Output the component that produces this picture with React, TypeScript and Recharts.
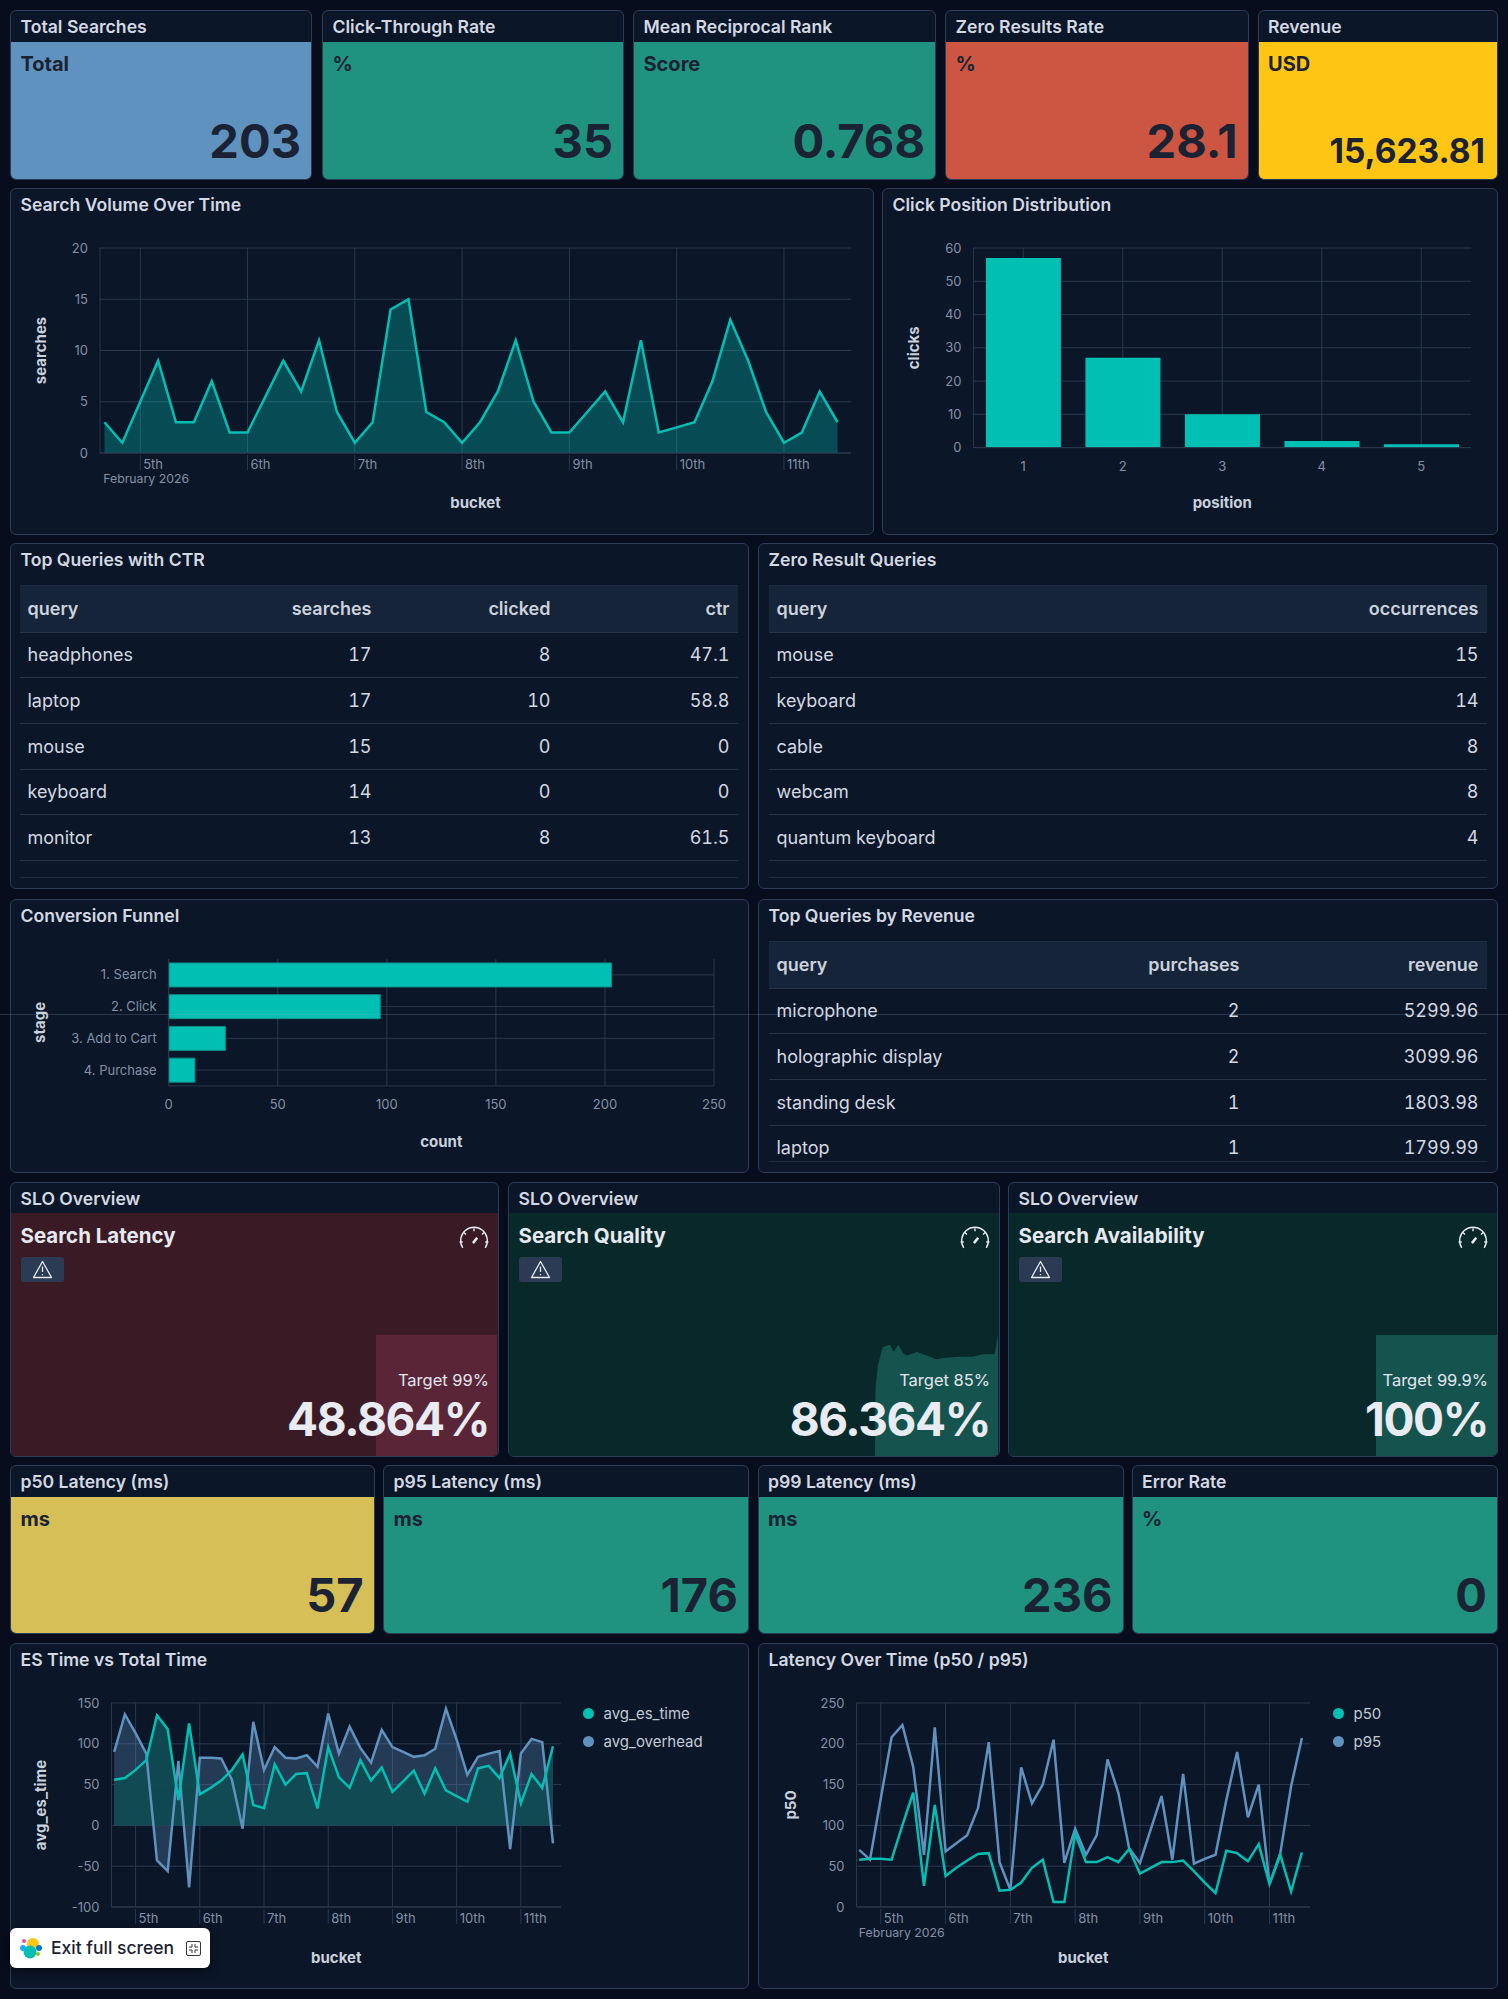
import React from "react";
import {
  AreaChart,
  Area,
  BarChart,
  Bar,
  ComposedChart,
  Line,
  LineChart,
  XAxis,
  YAxis,
  CartesianGrid,
  Legend,
} from "recharts";

const FONT = "Inter, sans-serif";
const TEAL = "#00bfb3";
const BLUE = "#6092c0";
const GRID = "#2a384e";
const TICK = "#8490a5";
const AXIS_TITLE = "#c9d1dd";
const TITLE = "#d3d8e2";
const DARK = "#1a2233";
const BORDER = "#2c3c58";
const PANEL = "#0b1628";

// 4h buckets, hours counted from Feb 4th 00:00
const buckets = [
  16, 20, 24, 28, 32, 36, 40, 44, 48, 52, 56, 60, 64, 68, 72, 76, 80, 84, 88, 92, 96, 100, 104, 108,
  112, 116, 120, 124, 128, 132, 136, 140, 144, 148, 152, 156, 160, 164, 168, 172, 176, 180,
];
const dayTicks = [24, 48, 72, 96, 120, 144, 168];
const dayLabels = ["5th", "6th", "7th", "8th", "9th", "10th", "11th"];
const monthLabel = "February 2026";

const searchVolume = [
  3, 1, 5, 9, 3, 3, 7, 2, 2, 5.5, 9, 6, 11, 4, 1, 3, 14, 15, 4, 3, 1, 3, 6, 11, 5, 2, 2, 4, 6, 3, 11, 2, 2.5, 3, 7, 13, 9,
  4, 1, 2, 6, 3,
];
const searchTicks = [0, 5, 10, 15, 20];

const clickPositions = ["1", "2", "3", "4", "5"];
const clickCounts = [57, 27, 10, 2, 1];
const clickTicks = [0, 10, 20, 30, 40, 50, 60];

const funnelStages = ["1. Search", "2. Click", "3. Add to Cart", "4. Purchase"];
const funnelCounts = [203, 97, 26, 12];
const funnelTicks = [0, 50, 100, 150, 200, 250];

const avgEsTime = [
  56, 58, 68, 80, 135, 118, 31, 125, 38, 46, 55, 68, 87, 25, 21, 75, 50, 63, 64, 21, 96, 59, 46, 80, 55, 71, 41, 54, 67,
  39, 70, 43, 36, 29, 70, 73, 58, 88, 27, 63, 46, 97,
];
const avgOverhead = [
  90, 136, 113, 88, -43, -56, 79, -76, 83, 83, 82, 56, -4, 127, 68, 96, 83, 82, 86, 72, 137, 88, 121, 95, 77, 117, 96, 90,
  84, 86, 94, 143, 105, 62, 84, 88, 91, -29, 88, 106, 102, -22,
];
const esTicks = [-100, -50, 0, 50, 100, 150];

const p50 = [
  58, 59, 59, 58, 100, 140, 26, 125, 38, 48, 57, 65, 66, 20, 21, 30, 48, 58, 6, 6, 90, 55, 55, 61, 55, 71, 41, 48, 55, 55,
  57, 44, 30, 17, 69, 66, 56, 77, 28, 64, 19, 67,
];
const p95 = [
  70, 58, 133, 208, 223, 172, 64, 220, 68, 78, 88, 121, 202, 55, 21, 171, 127, 150, 205, 54, 96, 64, 88, 181, 140, 72, 54,
  95, 136, 58, 163, 53, 59, 64, 131, 190, 110, 150, 28, 66, 148, 207,
];
const latencyTicks = [0, 50, 100, 150, 200, 250];

const topQueryNames = ["headphones", "laptop", "mouse", "keyboard", "monitor"];
const topQuerySearches = [17, 17, 15, 14, 13];
const topQueryClicked = [8, 10, 0, 0, 8];
const topQueryCtr = [47.1, 58.8, 0, 0, 61.5];

const zeroQueryNames = ["mouse", "keyboard", "cable", "webcam", "quantum keyboard"];
const zeroQueryCounts = [15, 14, 8, 8, 4];

const revenueNames = ["microphone", "holographic display", "standing desk", "laptop"];
const revenuePurchases = [2, 2, 1, 1];
const revenueValues = ["5299.96", "3099.96", "1803.98", "1799.99"];

// burn-down sparklines behind the SLO numbers, x is just position across the block
const latencyTrendX = [0, 100];
const latencyTrend = [100, 100];
const qualityTrendX = [0, 1, 6, 16, 31, 38, 48, 58, 66, 86, 106, 126, 141, 171, 201, 221, 246, 253];
const qualityTrend = [0, 56, 75, 90, 92, 86, 92, 85, 83, 86, 83, 80, 81, 82, 82, 84, 84, 100];
const availabilityTrendX = [0, 100];
const availabilityTrend = [100, 100];

const volumeRows = buckets.map((bucket, i) => ({ bucket, searches: searchVolume[i] }));
const clickRows = clickPositions.map((position, i) => ({ position, clicks: clickCounts[i] }));
const funnelRows = funnelStages.map((stage, i) => ({ stage, count: funnelCounts[i] }));
const esRows = buckets.map((bucket, i) => ({ bucket, avg_es_time: avgEsTime[i], avg_overhead: avgOverhead[i] }));
const latencyRows = buckets.map((bucket, i) => ({ bucket, p50: p50[i], p95: p95[i] }));

type Box = { x: number; y: number; w: number; h: number };
type Plot = { l: number; t: number; r: number; b: number };

const AXIS_SIZE = 60;
const EDGE = 1.5;

const abs = (x: number, y: number, w: number, h: number): React.CSSProperties => ({
  position: "absolute",
  left: x,
  top: y,
  width: w,
  height: h,
});

const chartMargin = (box: Box, plot: Plot, legendWidth = 0) => ({
  left: plot.l - box.x - AXIS_SIZE,
  top: plot.t - box.y,
  right: box.x + box.w - plot.r - legendWidth,
  bottom: box.y + box.h - plot.b - AXIS_SIZE,
});

const tickStyle = { fill: TICK, fontSize: 13, fontFamily: FONT };

const axisTitle = (text: string, x: number, y: number, rotate = false) => ({
  content: () => (
    <text
      x={x}
      y={y}
      transform={rotate ? `rotate(-90 ${x} ${y})` : undefined}
      textAnchor="middle"
      dominantBaseline="central"
      fill={AXIS_TITLE}
      fontSize={15}
      fontWeight={700}
      fontFamily={FONT}
    >
      {text}
    </text>
  ),
});

const yTitleFor = (text: string, box: Box, plot: Plot, absX: number) =>
  axisTitle(text, absX - box.x, (plot.t + plot.b) / 2 - box.y, true);
const xTitleFor = (text: string, box: Box, plot: Plot, absY: number) =>
  axisTitle(text, (plot.l + plot.r) / 2 - box.x, absY - box.y);

const DayTick = ({ x, y, payload, monthDx }: any) => {
  const i = dayTicks.indexOf(payload.value);
  return (
    <g>
      <line x1={x} x2={x} y1={y} y2={y + 15} stroke={GRID} />
      <text x={x + 3} y={y + 8.5} dominantBaseline="central" {...tickStyle}>
        {dayLabels[i]}
      </text>
      {i === 0 && (
        <text x={x + monthDx} y={y + 23.5} dominantBaseline="central" {...tickStyle} fontSize={12.3}>
          {monthLabel}
        </text>
      )}
    </g>
  );
};

const legendContent = (items: { name: string; color: string }[]) => () => (
  <div>
    {items.map((item) => (
      <div key={item.name} style={{ display: "flex", alignItems: "center", height: 28, fontFamily: FONT, fontSize: 15, color: "#c3cad6" }}>
        <span style={{ width: 11, height: 11, borderRadius: 6, background: item.color, marginRight: 10 }} />
        {item.name}
      </div>
    ))}
  </div>
);

const PanelFrame = ({ box, title, bg = PANEL, children }: any) => (
  <div
    style={{
      ...abs(box.x, box.y, box.w, box.h),
      boxSizing: "border-box",
      background: bg,
      border: `${EDGE}px solid ${BORDER}`,
      borderRadius: 6,
      overflow: "hidden",
    }}
  >
    <div
      style={{
        position: "absolute",
        left: 9.5,
        top: 6,
        fontFamily: FONT,
        fontSize: 17.6,
        fontWeight: 600,
        color: TITLE,
        lineHeight: "20px",
        whiteSpace: "nowrap",
      }}
    >
      {title}
    </div>
    {children}
  </div>
);

const Metric = ({ box, title, label, value, color, size = 47, bottom = 11, right = 10 }: any) => (
  <div style={abs(box.x, box.y, box.w, box.h)}>
    <PanelFrame box={{ x: 0, y: 0, w: box.w, h: box.h }} title={title}>
      <div style={{ position: "absolute", left: 0, right: 0, top: 30.5, bottom: 0, background: color }}>
        <div
          style={{
            position: "absolute",
            left: 9.5,
            top: 10,
            fontFamily: FONT,
            fontSize: 20,
            fontWeight: 700,
            lineHeight: "24px",
            color: DARK,
          }}
        >
          {label}
        </div>
        <div
          style={{
            position: "absolute",
            right,
            bottom,
            fontFamily: FONT,
            fontSize: size,
            fontWeight: 700,
            lineHeight: `${size + 8}px`,
            color: DARK,
          }}
        >
          {value}
        </div>
      </div>
    </PanelFrame>
  </div>
);

const GaugeIcon = ({ x, y }: any) => (
  <svg style={{ position: "absolute", left: x, top: y }} width={30} height={23.5} viewBox="1 0 28 22" fill="none" stroke="#e6e9f0" strokeWidth={1.3}>
    <path d="M4.5 20.5 A12.5 12.5 0 1 1 25.5 20.5" />
    <path d="M1.5 15 h3 M25.5 15 h3 M15 2 v3 M5.5 6 l2 2 M24.5 6 l-2 2" />
    <path d="M14 16 l4 -5" strokeWidth={2.4} />
  </svg>
);

const WarnBadge = ({ x, y }: any) => (
  <div style={{ ...abs(x, y, 43, 25), background: "#2b3b54", borderRadius: 3 }}>
    <svg style={{ position: "absolute", left: 11, top: 3 }} width={21} height={19} viewBox="0 0 21 19" fill="none" stroke="#e6e9f0" strokeWidth={1.3}>
      <path d="M10.5 1.5 L19.5 17.5 H1.5 Z" strokeLinejoin="round" />
      <path d="M10.5 6.5 V12 M10.5 14 V15.2" />
    </svg>
  </div>
);

const Slo = ({ box, name, target, value, bg, blockColor, block, trendX, trend }: any) => {
  const rows = trendX.map((x: number, i: number) => ({ x, level: trend[i] }));
  const right = box.w - EDGE;
  return (
    <div style={abs(box.x, box.y, box.w, box.h)}>
      <PanelFrame box={{ x: 0, y: 0, w: box.w, h: box.h }} title="SLO Overview">
        <div style={{ position: "absolute", left: 0, right: 0, top: 30, bottom: 0, background: bg }}>
          <div style={{ position: "absolute", left: block.x, top: block.y }}>
            <AreaChart width={block.w} height={block.h} data={rows} margin={{ left: 0, right: 0, top: 0, bottom: 0 }}>
              <XAxis dataKey="x" type="number" domain={["dataMin", "dataMax"]} hide />
              <YAxis domain={[0, 100]} hide />
              <Area type="linear" dataKey="level" stroke="none" fill={blockColor} fillOpacity={1} dot={false} isAnimationActive={false} />
            </AreaChart>
          </div>
          <div style={{ position: "absolute", left: 9.5, top: 10, fontFamily: FONT, fontSize: 20.5, fontWeight: 700, lineHeight: "26px", color: "#e6e9f0" }}>
            {name}
          </div>
          <WarnBadge x={9.5} y={44} />
          <GaugeIcon x={right - 40} y={13} />
          <div style={{ position: "absolute", right: 9, top: 155, fontFamily: FONT, fontSize: 16.5, lineHeight: "24px", color: "#e3e6ee", whiteSpace: "nowrap" }}>{target}</div>
          <div
            style={{
              position: "absolute",
              right: 9,
              top: 178,
              fontFamily: FONT,
              fontSize: 46,
              letterSpacing: -1.4,
              fontWeight: 700,
              lineHeight: "56px",
              color: "#e8ebf2",
            }}
          >
            {value}
          </div>
        </div>
      </PanelFrame>
    </div>
  );
};

const DataTable = ({ box, title, tableTop, tableBottom, columns, rows, tableX, tableW }: any) => (
  <PanelFrame box={box} title={title}>
    <div
      style={{
        position: "absolute",
        left: tableX - box.x - EDGE,
        top: tableTop - box.y - EDGE,
        width: tableW,
        height: tableBottom - tableTop,
        overflow: "hidden",
        borderBottom: `1px solid #1e2b40`,
        boxSizing: "border-box",
      }}
    >
      <table
        style={{
          borderCollapse: "collapse",
          tableLayout: "fixed",
          width: tableW,
          fontFamily: FONT,
          fontSize: 18,
          fontVariantNumeric: "tabular-nums",
        }}
      >
        <colgroup>
          {columns.map((c: any) => (
            <col key={c.name} style={{ width: c.width }} />
          ))}
        </colgroup>
        <thead>
          <tr style={{ background: "#16243a", height: 47, borderTop: "1px solid #1e2b40", borderBottom: "1px solid #263449" }}>
            {columns.map((c: any, i: number) => (
              <th key={c.name} style={{ padding: "0 8px", textAlign: i === 0 ? "left" : "right", fontWeight: 600, color: "#ccd2dd" }}>
                {c.name}
              </th>
            ))}
          </tr>
        </thead>
        <tbody>
          {rows.map((row: any[], r: number) => (
            <tr key={r} style={{ height: 45.7, borderBottom: "1px solid #263449" }}>
              {row.map((cell, i) => (
                <td key={i} style={{ padding: "0 8px", textAlign: i === 0 ? "left" : "right", color: "#d3d8e2" }}>
                  {cell}
                </td>
              ))}
            </tr>
          ))}
        </tbody>
      </table>
    </div>
  </PanelFrame>
);

const ChartPanel = ({ box, title, children }: any) => (
  <PanelFrame box={box} title={title}>
    <div style={{ position: "absolute", left: -EDGE, top: -EDGE }}>{children}</div>
  </PanelFrame>
);

const ExitButton = () => (
  <div
    style={{
      ...abs(10, 1928, 200, 40),
      background: "#fff",
      borderRadius: 6,
      boxShadow: "0 3px 10px rgba(0,0,0,.45)",
    }}
  >
    <svg style={{ position: "absolute", left: 10, top: 9 }} width={22} height={24} viewBox="0 0 22 24">
      <circle cx={13} cy={7} r={6} fill="#fec514" />
      <circle cx={4} cy={4} r={2} fill="#f04e98" />
      <circle cx={3} cy={11} r={3} fill="#1ba9f5" />
      <circle cx={19} cy={11} r={3} fill="#0077cc" />
      <circle cx={18} cy={17} r={2} fill="#93c90e" />
      <circle cx={10} cy={15} r={6.5} fill="#00bfb3" />
    </svg>
    <div style={{ position: "absolute", left: 41, top: 0, lineHeight: "40px", fontFamily: FONT, fontSize: 17.5, fontWeight: 500, color: "#1a2233" }}>
      Exit full screen
    </div>
    <svg style={{ position: "absolute", left: 176, top: 13 }} width={15} height={15} viewBox="0 0 15 15" fill="none" stroke="#343741">
      <rect x={0.5} y={0.5} width={14} height={14} rx={1.5} />
      <path d="M3 6 h3 v-3 M12 6 h-3 v-3 M3 9 h3 v3 M12 9 h-3 v3" />
    </svg>
  </div>
);

const volumeBox = { x: 10, y: 188, w: 864, h: 347 };
const volumePlot = { l: 100, t: 248, r: 851, b: 453 };
const clickBox = { x: 882, y: 188, w: 616, h: 347 };
const clickPlot = { l: 973.5, t: 248, r: 1471, b: 447.6 };
const funnelBox = { x: 10, y: 898.5, w: 739, h: 274.5 };
const funnelPlot = { l: 168.7, t: 959.5, r: 714, b: 1086.4 };
const esBox = { x: 10, y: 1643, w: 739, h: 346 };
const esPlot = { l: 111.5, t: 1703, r: 561, b: 1907 };
const latencyBox = { x: 758, y: 1643, w: 740, h: 346 };
const latencyPlot = { l: 856.5, t: 1703, r: 1310, b: 1907 };

const App = () => (
  <div style={{ ...abs(0, 0, 1508, 1999), background: "#070d1d", overflow: "hidden" }}>
    <Metric box={{ x: 10, y: 10, w: 302, h: 170 }} title="Total Searches" label="Total" value="203" color={BLUE} />
    <Metric box={{ x: 322, y: 10, w: 302, h: 170 }} title="Click-Through Rate" label="%" value="35" color="#209280" />
    <Metric box={{ x: 633, y: 10, w: 303, h: 170 }} title="Mean Reciprocal Rank" label="Score" value="0.768" color="#209280" />
    <Metric box={{ x: 945, y: 10, w: 303.5, h: 170 }} title="Zero Results Rate" label="%" value="28.1" color="#cc5642" />
    <Metric box={{ x: 1257.5, y: 10, w: 240.5, h: 170 }} title="Revenue" label="USD" value="15,623.81" color="#fec514" size={33.5} bottom={7} right={12} />

    <ChartPanel box={volumeBox} title="Search Volume Over Time">
      <AreaChart width={volumeBox.w} height={volumeBox.h} data={volumeRows} margin={chartMargin(volumeBox, volumePlot)}>
        <CartesianGrid stroke={GRID} syncWithTicks />
        <XAxis
          dataKey="bucket"
          type="number"
          domain={[15, 183]}
          ticks={dayTicks}
          interval={0}
          height={AXIS_SIZE}
          tickSize={0}
          stroke={GRID}
          tick={(p: any) => <DayTick {...p} monthDx={-37} />}
          label={xTitleFor("bucket", volumeBox, volumePlot, 502)}
        />
        <YAxis
          domain={[0, 20]}
          ticks={searchTicks}
          width={AXIS_SIZE}
          tickSize={0}
          tickMargin={12}
          stroke={GRID}
          tick={tickStyle}
          label={yTitleFor("searches", volumeBox, volumePlot, 40)}
        />
        <Area type="linear" dataKey="searches" stroke={TEAL} strokeWidth={2.5} fill={TEAL} fillOpacity={0.32} dot={false} isAnimationActive={false} />
      </AreaChart>
    </ChartPanel>

    <ChartPanel box={clickBox} title="Click Position Distribution">
      <BarChart width={clickBox.w} height={clickBox.h} data={clickRows} margin={chartMargin(clickBox, clickPlot)} barCategoryGap="12.5%">
        <CartesianGrid stroke={GRID} syncWithTicks />
        <XAxis
          dataKey="position"
          height={AXIS_SIZE}
          tickSize={0}
          tickMargin={14}
          stroke={GRID}
          tick={tickStyle}
          label={xTitleFor("position", clickBox, clickPlot, 502)}
        />
        <YAxis
          domain={[0, 60]}
          ticks={clickTicks}
          width={AXIS_SIZE}
          tickSize={0}
          tickMargin={12}
          stroke={GRID}
          tick={tickStyle}
          label={yTitleFor("clicks", clickBox, clickPlot, 913.6)}
        />
        <Bar dataKey="clicks" fill={TEAL} isAnimationActive={false} />
      </BarChart>
    </ChartPanel>

    <DataTable
      box={{ x: 10, y: 543, w: 739, h: 346 }}
      title="Top Queries with CTR"
      tableX={20}
      tableW={718}
      tableTop={585}
      tableBottom={878.5}
      columns={[
        { name: "query", width: 181 },
        { name: "searches", width: 179 },
        { name: "clicked", width: 179 },
        { name: "ctr", width: 179 },
      ]}
      rows={topQueryNames.map((q, i) => [q, topQuerySearches[i], topQueryClicked[i], topQueryCtr[i]])}
    />
    <DataTable
      box={{ x: 758, y: 543, w: 740, h: 346 }}
      title="Zero Result Queries"
      tableX={769}
      tableW={718}
      tableTop={585}
      tableBottom={878.5}
      columns={[
        { name: "query", width: 400 },
        { name: "occurrences", width: 318 },
      ]}
      rows={zeroQueryNames.map((q, i) => [q, zeroQueryCounts[i]])}
    />

    <ChartPanel box={funnelBox} title="Conversion Funnel">
      <BarChart
        layout="vertical"
        width={funnelBox.w}
        height={funnelBox.h}
        data={funnelRows}
        margin={chartMargin(funnelBox, funnelPlot)}
        barCategoryGap="12.5%"
      >
        <CartesianGrid stroke={GRID} syncWithTicks />
        <XAxis
          type="number"
          domain={[0, 250]}
          ticks={funnelTicks}
          interval={0}
          height={AXIS_SIZE}
          tickSize={0}
          tickMargin={14}
          stroke={GRID}
          tick={tickStyle}
          label={xTitleFor("count", funnelBox, funnelPlot, 1142)}
        />
        <YAxis
          type="category"
          dataKey="stage"
          width={AXIS_SIZE}
          tickSize={0}
          tickMargin={12}
          stroke={GRID}
          tick={{ ...tickStyle, width: 200 }}
          interval={0}
          label={yTitleFor("stage", funnelBox, funnelPlot, 40)}
        />
        <Bar dataKey="count" fill={TEAL} stroke="#0b8f88" isAnimationActive={false} />
      </BarChart>
    </ChartPanel>

    <DataTable
      box={{ x: 758, y: 898.5, w: 740, h: 274.5 }}
      title="Top Queries by Revenue"
      tableX={769}
      tableW={718}
      tableTop={941}
      tableBottom={1162.5}
      columns={[
        { name: "query", width: 231 },
        { name: "purchases", width: 248 },
        { name: "revenue", width: 239 },
      ]}
      rows={revenueNames.map((q, i) => [q, revenuePurchases[i], revenueValues[i]])}
    />

    <Slo
      box={{ x: 10, y: 1182, w: 489, h: 275 }}
      name="Search Latency"
      target="Target 99%"
      value="48.864%"
      bg="#3a1a24"
      blockColor="#5a2537"
      block={{ x: 365, y: 122, w: 121, h: 121 }}
      trendX={latencyTrendX}
      trend={latencyTrend}
    />
    <Slo
      box={{ x: 508, y: 1182, w: 492, h: 275 }}
      name="Search Quality"
      target="Target 85%"
      value="86.364%"
      bg="#08282a"
      blockColor="#15544e"
      block={{ x: 366, y: 122, w: 123, h: 121 }}
      trendX={qualityTrendX}
      trend={qualityTrend}
    />
    <Slo
      box={{ x: 1008, y: 1182, w: 490, h: 275 }}
      name="Search Availability"
      target="Target 99.9%"
      value="100%"
      bg="#08282a"
      blockColor="#15544e"
      block={{ x: 366.5, y: 122, w: 122, h: 121 }}
      trendX={availabilityTrendX}
      trend={availabilityTrend}
    />

    <Metric box={{ x: 10, y: 1465, w: 364.5, h: 169 }} title="p50 Latency (ms)" label="ms" value="57" color="#d6bf57" />
    <Metric box={{ x: 383, y: 1465, w: 366, h: 169 }} title="p95 Latency (ms)" label="ms" value="176" color="#209280" />
    <Metric box={{ x: 757.5, y: 1465, w: 366, h: 169 }} title="p99 Latency (ms)" label="ms" value="236" color="#209280" />
    <Metric box={{ x: 1131.5, y: 1465, w: 366.5, h: 169 }} title="Error Rate" label="%" value="0" color="#209280" />

    <ChartPanel box={esBox} title="ES Time vs Total Time">
      <ComposedChart width={esBox.w} height={esBox.h} data={esRows} margin={chartMargin(esBox, esPlot, 150)}>
        <CartesianGrid stroke={GRID} syncWithTicks />
        <XAxis
          dataKey="bucket"
          type="number"
          domain={[15, 183]}
          ticks={dayTicks}
          interval={0}
          height={AXIS_SIZE}
          tickSize={0}
          stroke={GRID}
          tick={(p: any) => <DayTick {...p} monthDx={-22} />}
          label={xTitleFor("bucket", esBox, esPlot, 1957)}
        />
        <YAxis
          domain={[-100, 150]}
          ticks={esTicks}
          width={AXIS_SIZE}
          tickSize={0}
          tickMargin={12}
          stroke={GRID}
          tick={tickStyle}
          label={yTitleFor("avg_es_time", esBox, esPlot, 40)}
        />
        <Legend
          layout="vertical"
          align="right"
          verticalAlign="top"
          width={150}
          content={legendContent([
            { name: "avg_es_time", color: TEAL },
            { name: "avg_overhead", color: BLUE },
          ])}
          wrapperStyle={{ left: 573, top: 57, right: "auto" }}
        />
        {/* fills first, teal fill hides the blue fill under it; both lines go on top */}
        <Area type="linear" dataKey="avg_overhead" stroke="none" fill={BLUE} fillOpacity={0.3} dot={false} isAnimationActive={false} />
        <Area type="linear" dataKey="avg_es_time" stroke="none" fill="#114b53" fillOpacity={0.95} dot={false} isAnimationActive={false} />
        <Line type="linear" dataKey="avg_overhead" stroke={BLUE} strokeWidth={2.5} dot={false} isAnimationActive={false} />
        <Line type="linear" dataKey="avg_es_time" stroke={TEAL} strokeWidth={2.5} dot={false} isAnimationActive={false} />
      </ComposedChart>
    </ChartPanel>

    <ChartPanel box={latencyBox} title="Latency Over Time (p50 / p95)">
      <LineChart width={latencyBox.w} height={latencyBox.h} data={latencyRows} margin={chartMargin(latencyBox, latencyPlot, 150)}>
        <CartesianGrid stroke={GRID} syncWithTicks />
        <XAxis
          dataKey="bucket"
          type="number"
          domain={[15, 183]}
          ticks={dayTicks}
          interval={0}
          height={AXIS_SIZE}
          tickSize={0}
          stroke={GRID}
          tick={(p: any) => <DayTick {...p} monthDx={-22} />}
          label={xTitleFor("bucket", latencyBox, latencyPlot, 1957)}
        />
        <YAxis
          domain={[0, 250]}
          ticks={latencyTicks}
          width={AXIS_SIZE}
          tickSize={0}
          tickMargin={12}
          stroke={GRID}
          tick={tickStyle}
          label={yTitleFor("p50", latencyBox, latencyPlot, 790)}
        />
        <Legend
          layout="vertical"
          align="right"
          verticalAlign="top"
          width={150}
          content={legendContent([
            { name: "p50", color: TEAL },
            { name: "p95", color: BLUE },
          ])}
          wrapperStyle={{ left: 575, top: 57, right: "auto" }}
        />
        <Line type="linear" dataKey="p95" stroke={BLUE} strokeWidth={2.5} dot={false} isAnimationActive={false} />
        <Line type="linear" dataKey="p50" stroke={TEAL} strokeWidth={2.5} dot={false} isAnimationActive={false} />
      </LineChart>
    </ChartPanel>

    <ExitButton />
    <div style={{ ...abs(0, 1014, 1508, 1), background: "rgba(150,170,200,.22)" }} />
  </div>
);

export default App;
